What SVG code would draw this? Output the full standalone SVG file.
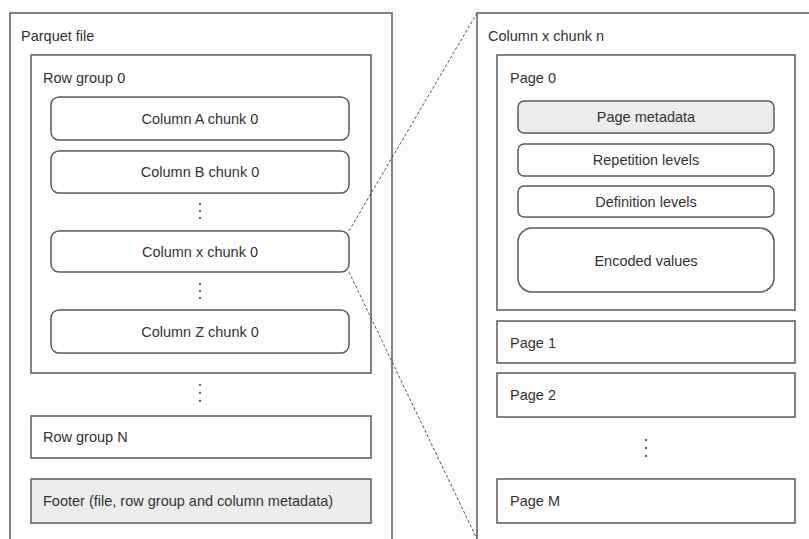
<svg xmlns="http://www.w3.org/2000/svg" width="809" height="539" viewBox="0 0 809 539">
<style>
.box{fill:#fff;stroke:#5a5a5a;stroke-width:1.5}
.gray{fill:#ececec}
.t{font-family:"Liberation Sans",Arial,sans-serif;font-size:14.5px;fill:#333}
.c{text-anchor:middle}
.dot{fill:#666}
.conn{fill:none;stroke:#555;stroke-width:1;stroke-dasharray:3 2}
</style>
<rect width="809" height="539" fill="#fcfcfc"/>
<g id="parquet-file">
<rect class="box" x="10" y="13" width="382" height="540"/>
<text class="t" x="21" y="41">Parquet file</text>
</g>
<g id="row-group-0">
<rect class="box" x="31" y="55" width="340" height="318"/>
<text class="t" x="43" y="83">Row group 0</text>
</g>
<g id="col-a"><rect class="box" x="51" y="97" width="298" height="43" rx="8"/><text class="t c" x="200" y="123.5">Column A chunk 0</text></g>
<g id="col-b"><rect class="box" x="51" y="151" width="298" height="42" rx="8"/><text class="t c" x="200" y="177">Column B chunk 0</text></g>
<g id="dots1"><circle class="dot" cx="200" cy="204" r="1.2"/><circle class="dot" cx="200" cy="211" r="1.2"/><circle class="dot" cx="200" cy="218" r="1.2"/></g>
<g id="col-x"><rect class="box" x="51" y="231" width="298" height="41" rx="8"/><text class="t c" x="200" y="256.5">Column x chunk 0</text></g>
<g id="dots2"><circle class="dot" cx="200" cy="284" r="1.2"/><circle class="dot" cx="200" cy="291" r="1.2"/><circle class="dot" cx="200" cy="298" r="1.2"/></g>
<g id="col-z"><rect class="box" x="51" y="310" width="298" height="43" rx="8"/><text class="t c" x="200" y="336.5">Column Z chunk 0</text></g>
<g id="dots3"><circle class="dot" cx="200" cy="385" r="1.2"/><circle class="dot" cx="200" cy="393" r="1.2"/><circle class="dot" cx="200" cy="401" r="1.2"/></g>
<g id="row-group-n"><rect class="box" x="31" y="416" width="340" height="42"/><text class="t" x="43" y="442">Row group N</text></g>
<g id="footer"><rect class="box gray" x="31" y="479" width="340" height="44"/><text class="t" x="43" y="506">Footer (file, row group and column metadata)</text></g>

<g id="column-chunk-n">
<rect class="box" x="477" y="13" width="350" height="540"/>
<text class="t" x="488" y="41">Column x chunk n</text>
</g>
<g id="page-0">
<rect class="box" x="497" y="55" width="298" height="255"/>
<text class="t" x="510" y="83">Page 0</text>
</g>
<g id="page-metadata"><rect class="box gray" x="518" y="101" width="256" height="32" rx="6"/><text class="t c" x="646" y="122">Page metadata</text></g>
<g id="repetition"><rect class="box" x="518" y="144" width="256" height="32" rx="6"/><text class="t c" x="646" y="165">Repetition levels</text></g>
<g id="definition"><rect class="box" x="518" y="186" width="256" height="31" rx="6"/><text class="t c" x="646" y="207">Definition levels</text></g>
<g id="encoded"><rect class="box" x="518" y="228" width="256" height="64" rx="14"/><text class="t c" x="646" y="266">Encoded values</text></g>
<g id="page-1"><rect class="box" x="497" y="321" width="298" height="42"/><text class="t" x="510" y="348">Page 1</text></g>
<g id="page-2"><rect class="box" x="497" y="373" width="298" height="44"/><text class="t" x="510" y="400">Page 2</text></g>
<g id="dots4"><circle class="dot" cx="646" cy="440" r="1.2"/><circle class="dot" cx="646" cy="448" r="1.2"/><circle class="dot" cx="646" cy="456" r="1.2"/></g>
<g id="page-m"><rect class="box" x="497" y="479" width="298" height="44"/><text class="t" x="510" y="506">Page M</text></g>

<g id="connectors">
<line class="conn" x1="349" y1="231" x2="477" y2="13"/>
<line class="conn" x1="349" y1="272" x2="477" y2="539"/>
</g>
</svg>
